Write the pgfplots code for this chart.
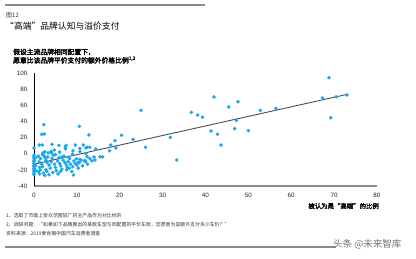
\documentclass[border=0pt]{standalone}
\usepackage{fontspec}
\setmainfont{Liberation Sans}
\newfontfamily\cjk{Noto Sans CJK SC}
\newfontfamily\cjkb[FakeBold=2.5]{Noto Sans CJK SC}
\usepackage{pgfplots}
\pgfplotsset{compat=1.18}
\definecolor{ptblue}{HTML}{1AA7EC}
\definecolor{rulegray}{HTML}{8C8C8C}
\pgfplotstableread{
x y
68.8 94.2
73.0 72.7
70.5 70.6
67.3 69.0
69.2 44.6
56.4 56.2
52.8 53.7
47.6 64.4
45.4 57.9
42.0 70.3
36.7 51.3
38.2 48.0
39.3 45.1
47.2 41.4
46.8 31.0
41.3 28.1
42.8 24.0
43.6 10.8
50.0 28.5
25.0 53.7
12.8 23.2
20.4 22.8
23.1 17.8
18.9 16.1
17.9 10.8
19.1 7.1
17.6 3.7
14.4 5.8
12.1 7.1
12.4 -3.7
11.9 -8.7
26.0 7.9
31.8 20.3
33.3 -7.8
10.6 33.9
2.3 35.9
1.8 24.0
2.4 24.5
1.2 10.8
1.9 10.8
0.0 7.0
12.4 7.9
12.1 0.0
10.7 6.7
10.7 2.5
9.6 10.8
9.1 3.7
9.0 -0.5
7.3 8.7
7.3 6.0
5.8 10.4
4.2 11.6
4.7 4.6
4.1 1.2
2.5 2.5
2.1 0.8
2.3 -2.5
8.0 -4.5
9.9 -6.2
10.7 -7.0
10.3 -10.7
11.7 -8.7
9.2 -26.4
11.5 10.8
13.0 8.0
15.4 -3.7
14.2 -7.8
0.0 -2
0.0 -4
0.0 -6
0.0 -8
0.0 -10
0.0 -12
0.0 -14
0.0 -16
0.0 -18
0.0 -20
0.0 -22
0.0 -24
0.0 -26
0.4 -5
0.4 -15
0.4 -21
1.0 -3
1.5 -6
1.2 -10
1.8 -13
2.0 -16
1.5 -20
2.2 -24
2.5 -27
1.0 -22
1.3 -17
2.8 -8
3.0 -11
3.2 -4
3.5 -14
3.8 -18
3.0 -22
3.5 -26
4.0 -10
4.2 -6
4.5 -2
4.8 -13
5.0 -17
5.2 -21
5.5 -9
5.8 -5
6.0 -12
6.2 -15
6.5 -19
6.8 -8
7.0 -3
7.2 -11
7.5 -14
7.8 -17
8.0 -10
8.3 -6
8.5 -13
8.8 -22
9.0 -16
9.3 -9
9.6 -12
10.0 -14
10.3 -18
10.6 -11
11.0 -8
11.3 -15
12.0 -10
12.5 -13
13.0 -6
13.5 -9
14.0 -4
2.0 -1
2.6 -5
3.3 1
4.0 3
5.0 -1
6.0 2
6.5 -4
1.3 -25
2.8 -20
4.4 -23
5.6 -25
6.2 -22
7.6 -20
8.2 -18
16.0 -4
7.5 10.4
}\pts
\begin{document}
\begin{tikzpicture}
\useasboundingbox (0pt,0pt) rectangle (416pt,-259pt);
\draw[rulegray, line width=1.4pt] (5pt,-5pt) -- (205pt,-5pt);
\node[anchor=west, inner sep=0pt, font=\cjk\fontsize{6}{6}\selectfont, text=black!80] at (6pt,-15pt) {图12};
\node[anchor=west, inner sep=0pt, font=\cjk\fontsize{8.8}{9}\selectfont] at (5pt,-26pt) {“高端”品牌认知与溢价支付};
\node[anchor=west, inner sep=0pt, font=\cjkb\fontsize{6.8}{7}\selectfont] at (13pt,-52pt) {假设主流品牌相同配置下，};
\node[anchor=west, inner sep=0pt, font=\cjkb\fontsize{6.8}{7}\selectfont] at (13pt,-60pt) {愿意比该品牌平价支付的额外价格比例\textsuperscript{1,2}};
\begin{axis}[
  at={(34pt,-186pt)}, anchor=south west,
  scale only axis, width=343pt, height=113pt,
  xmin=0, xmax=80, ymin=-40, ymax=100,
  xtick={0,10,...,80}, ytick={-40,-20,...,100},
  axis x line=bottom, axis y line=left,
  x axis line style={-, draw=rulegray, line width=1.3pt},
  y axis line style={-, draw=black, line width=0.9pt},
  tick style={draw=none},
  ticklabel style={font=\fontsize{6.3}{7}\selectfont, text=black!85},
  /pgf/number format/assume math mode=true,
  xticklabel style={yshift=-1pt},
  yticklabel style={xshift=-1pt},
  clip=false,
]
\addplot[only marks, mark=*, mark size=1.6pt, color=ptblue, mark options={draw=ptblue, fill=ptblue}] table[x=x,y=y] {\pts};
\addplot[no marks, color=black!70, line width=0.9pt] coordinates {(0,-13) (73,73.5)};
\end{axis}
\node[anchor=east, inner sep=0pt, font=\cjkb\fontsize{6.4}{7}\selectfont] at (379pt,-206pt) {被认为是“高端”的比例};
\node[anchor=west, inner sep=0pt, font=\cjk\fontsize{4.9}{5}\selectfont, text=black!80] at (6pt,-216pt) {1、选取了市面上受众范围较广的主产品作为对比标的};
\node[anchor=west, inner sep=0pt, font=\cjk\fontsize{4.9}{5}\selectfont, text=black!80] at (6pt,-224.5pt) {2、调研问题：“如果如下品牌推出的某款车型与同配置的平价车款，您愿意为其额外支付多少车价？”};
\node[anchor=west, inner sep=0pt, font=\cjk\fontsize{4.9}{5}\selectfont, text=black!80] at (6pt,-234pt) {资料来源：2019麦肯锡中国汽车消费者调查};
\draw[rulegray, line width=1.4pt] (5pt,-247pt) -- (336pt,-247pt);
\node[anchor=west, inner sep=0pt, font=\cjk\fontsize{9.5}{10}\selectfont, text=black!55] at (333pt,-244pt) {头条 @未来智库};
\end{tikzpicture}
\end{document}
